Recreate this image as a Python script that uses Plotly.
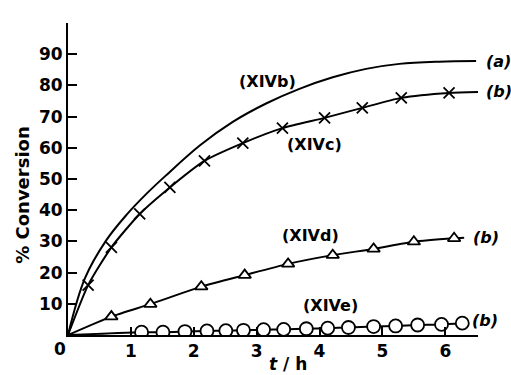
import plotly.graph_objects as go

# Data
t_b = [0, 0.27, 0.61, 0.93, 1.25, 1.55, 2.10, 2.62, 3.15, 3.68, 4.21, 4.74, 5.27, 5.90, 6.49]
v_b = [0, 18.2, 30.4, 38.5, 45.3, 51.0, 60.8, 68.3, 74.2, 78.9, 82.6, 85.3, 86.9, 87.6, 87.8]

t_c = [0, 0.32, 0.69, 1.14, 1.62, 2.17, 2.78, 3.41, 4.08, 4.68, 5.30, 6.06, 6.54]
v_c = [0, 16.0, 28.1, 38.8, 47.3, 55.8, 61.5, 66.3, 69.6, 72.8, 76.0, 77.6, 77.9]
c_marked = [False, True, True, True, True, True, True, True, True, True, True, True, False]

t_d = [0, 0.69, 1.31, 2.12, 2.81, 3.50, 4.21, 4.86, 5.50, 6.14, 6.30]
v_d = [0, 5.9, 9.9, 15.5, 19.2, 22.8, 25.6, 27.6, 29.9, 31.0, 31.2]
d_marked = [False, True, True, True, True, True, True, True, True, True, False]

t_e = [0, 1.17, 1.51, 1.86, 2.21, 2.51, 2.79, 3.11, 3.43, 3.79, 4.13, 4.46, 4.86, 5.21, 5.56, 5.94, 6.27]
v_e = [0, 0.9, 0.9, 1.1, 1.3, 1.4, 1.5, 1.7, 1.8, 2.0, 2.2, 2.4, 2.7, 2.9, 3.2, 3.4, 3.8]
e_marked = [False] + [True] * 16

x_ticks = [1, 2, 3, 4, 5, 6]
y_ticks = [10, 20, 30, 40, 50, 60, 70, 80, 90]

FONT = "DejaVu Sans"
BLACK = "black"

fig = go.Figure()


def pick(xs, ys, mask):
    return [x for x, m in zip(xs, mask) if m], [y for y, m in zip(ys, mask) if m]


# curve (a) XIVb – no markers
fig.add_trace(go.Scatter(x=t_b, y=v_b, mode="lines",
                         line=dict(color=BLACK, width=2, shape="spline", smoothing=1.0),
                         showlegend=False, hoverinfo="skip"))

for ts, vs, mask, sym, size, fill in [
    (t_c, v_c, c_marked, "x-thin-open", 11, BLACK),
    (t_d, v_d, d_marked, "triangle-up", 11, "white"),
    (t_e, v_e, e_marked, "circle", 13, "white"),
]:
    fig.add_trace(go.Scatter(x=ts, y=vs, mode="lines",
                             line=dict(color=BLACK, width=2, shape="spline", smoothing=0.6),
                             showlegend=False, hoverinfo="skip"))
    mx, my = pick(ts, vs, mask)
    fig.add_trace(go.Scatter(x=mx, y=my, mode="markers",
                             marker=dict(symbol=sym, size=size, color=fill,
                                         line=dict(color=BLACK, width=1.8)),
                             showlegend=False, hoverinfo="skip"))


def ann(x, y, text, ref="data", size=17, **kw):
    d = dict(x=x, y=y, text=text, showarrow=False, xanchor="center", yanchor="middle",
             font=dict(family=FONT, size=size, color=BLACK, weight="bold"))
    if ref == "data":
        d.update(xref="x", yref="y")
    else:
        d.update(xref="paper", yref="paper")
    d.update(kw)
    return d


annotations = [
    ann(3.17, 81.4, "(XIVb)", size=16),
    ann(3.92, 61.2, "(XIVc)", size=16),
    ann(3.86, 32.0, "(XIVd)", size=16),
    ann(4.17, 9.6, "(XIVe)", size=16),
    ann(1.051, 0.878, "<i>(a)</i>", ref="paper", size=16),
    ann(1.051, 0.779, "<i>(b)</i>", ref="paper", size=16),
    ann(1.020, 0.311, "<i>(b)</i>", ref="paper", size=16),
    ann(1.017, 0.045, "<i>(b)</i>", ref="paper", size=16),
    ann(-0.0195, -0.045, "0", ref="paper", size=17),
    ann(-0.11, 0.449, "% Conversion", ref="paper", size=18, textangle=-90),
    ann(0.537, -0.093, "<i>t</i> / h", ref="paper", size=17),
]

tick_font = dict(family=FONT, size=17, color=BLACK, weight="bold")

fig.update_layout(
    width=511, height=375,
    margin=dict(l=68, r=33, t=23, b=40),
    paper_bgcolor="white", plot_bgcolor="white",
    showlegend=False,
    annotations=annotations,
    xaxis=dict(range=[0, 6.52], tickvals=x_ticks, ticktext=[str(v) for v in x_ticks],
               ticks="inside", ticklen=8, tickwidth=2, tickcolor=BLACK,
               showline=True, linewidth=2, linecolor=BLACK,
               showgrid=False, zeroline=False, tickfont=tick_font),
    yaxis=dict(range=[0, 100], tickvals=y_ticks, ticktext=[str(v) for v in y_ticks],
               ticks="inside", ticklen=9, tickwidth=2, tickcolor=BLACK,
               showline=True, linewidth=2, linecolor=BLACK,
               showgrid=False, zeroline=False, tickfont=tick_font),
)

fig.write_html("out.html", config={"displayModeBar": False},
               post_script="document.body.style.margin='0px';")
